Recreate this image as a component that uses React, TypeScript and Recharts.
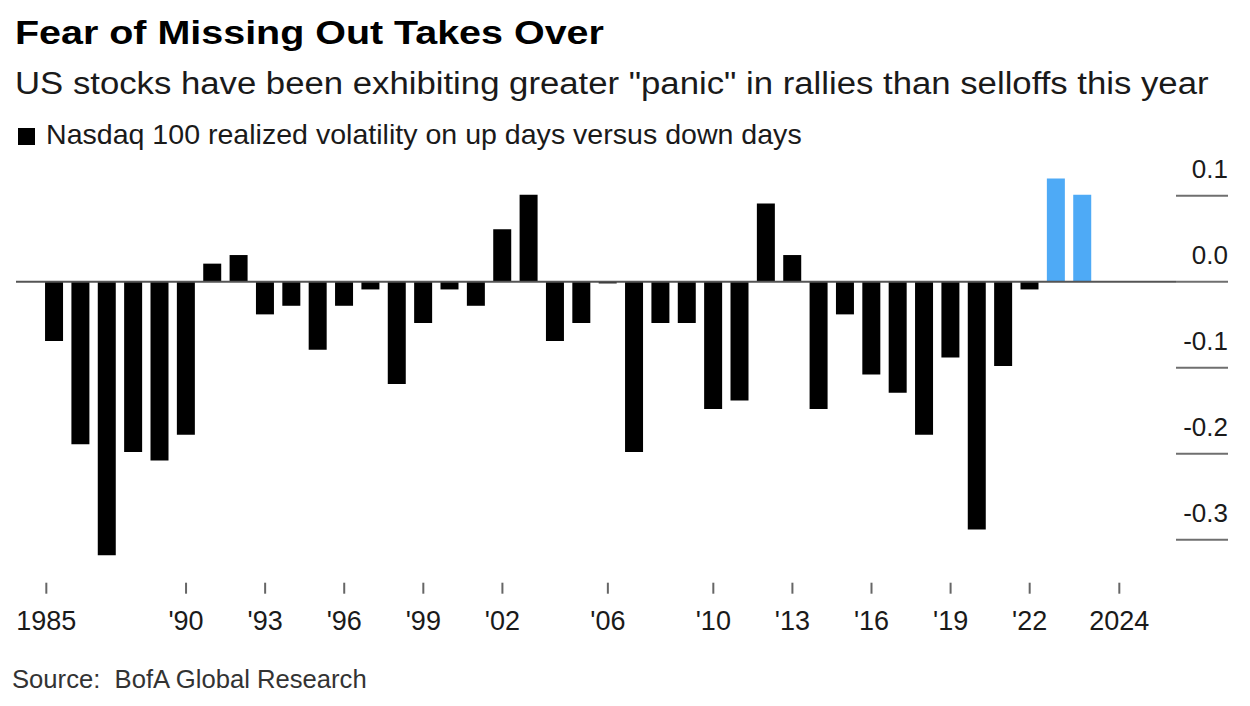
import React from "react";
import { BarChart, Bar, XAxis, YAxis, ReferenceLine, Cell } from "recharts";

// Nasdaq 100 realized vol on up days minus down days, by year
const years = [
  1985, 1986, 1987, 1988, 1989, 1990, 1991, 1992, 1993, 1994, 1995, 1996, 1997, 1998,
  1999, 2000, 2001, 2002, 2003, 2004, 2005, 2006, 2007, 2008, 2009, 2010, 2011, 2012,
  2013, 2014, 2015, 2016, 2017, 2018, 2019, 2020, 2021, 2022, 2023, 2024,
];
const values = [
  -0.069, -0.189, -0.318, -0.198, -0.208, -0.178, 0.021, 0.031, -0.038, -0.028, -0.079,
  -0.028, -0.009, -0.119, -0.048, -0.009, -0.028, 0.061, 0.101, -0.069, -0.048, -0.002,
  -0.198, -0.048, -0.048, -0.148, -0.138, 0.091, 0.031, -0.148, -0.038, -0.108, -0.129,
  -0.178, -0.088, -0.288, -0.098, -0.009, 0.12, 0.101,
];
const highlightYears = [2023, 2024];

const xTickYears = [1984.7, 1990, 1993, 1996, 1999, 2002, 2006, 2010, 2013, 2016, 2019, 2022, 2025.4];
const xTickLabels = ["1985", "'90", "'93", "'96", "'99", "'02", "'06", "'10", "'13", "'16", "'19", "'22", "2024"];
const yTicks = [0.1, 0, -0.1, -0.2, -0.3];

const data = years.map((year, i) => ({ year, value: values[i] }));

const FONT = '"Liberation Sans", Arial, Helvetica, sans-serif';

function YTick({ x, y, payload }: any) {
  return (
    <g>
      <line x1={x} x2={x + 52} y1={y} y2={y} stroke="#6f6f6f" strokeWidth={2} />
      <text x={x + 52} y={y - 17.5} textAnchor="end" fontSize={26} fill="#1a1a1a">
        {Number(payload.value).toFixed(1)}
      </text>
    </g>
  );
}

export default function App() {
  return (
    <div
      style={{
        position: "absolute",
        left: 0,
        top: 0,
        width: 1250,
        height: 706,
        background: "#fff",
        overflow: "hidden",
        fontFamily: FONT,
      }}
    >
      <div style={{ position: "absolute", left: 0, top: 0 }}>
        <BarChart
          width={1250}
          height={706}
          data={data}
          margin={{ top: 161.3, right: 0, bottom: 63.3, left: 16 }}
        >
          <XAxis
            dataKey="year"
            type="number"
            domain={[1983.55, 2027.55]}
            allowDataOverflow
            ticks={xTickYears}
            interval={0}
            tickFormatter={(v: number) => xTickLabels[xTickYears.indexOf(v)] ?? ""}
            axisLine={false}
            tickSize={11}
            tickLine={{ stroke: "#666", strokeWidth: 2 }}
            tickMargin={17}
            tick={{ fontSize: 27, fill: "#1a1a1a" }}
            height={60}
          />
          <YAxis
            orientation="right"
            type="number"
            domain={[-0.35, 0.14]}
            allowDataOverflow
            ticks={yTicks}
            interval={0}
            axisLine={false}
            tickLine={false}
            tickSize={0}
            tickMargin={0}
            width={74}
            tick={<YTick />}
          />
          <ReferenceLine y={0} stroke="#555" strokeWidth={2} />
          <Bar dataKey="value" barSize={18} isAnimationActive={false}>
            {data.map((d) => (
              <Cell key={d.year} fill={highlightYears.includes(d.year) ? "#4eaaf6" : "#000"} />
            ))}
          </Bar>
        </BarChart>
      </div>

      <div
        style={{
          position: "absolute",
          left: 15,
          top: 14.5,
          fontSize: 34,
          lineHeight: "34px",
          fontWeight: 700,
          color: "#000",
          whiteSpace: "nowrap",
          transform: "scaleX(1.16)",
          transformOrigin: "left",
        }}
      >
        Fear of Missing Out Takes Over
      </div>
      <div
        style={{
          position: "absolute",
          left: 15,
          top: 67.8,
          fontSize: 31,
          lineHeight: "31px",
          color: "#1a1a1a",
          whiteSpace: "nowrap",
          transform: "scaleX(1.12)",
          transformOrigin: "left",
        }}
      >
        US stocks have been exhibiting greater "panic" in rallies than selloffs this year
      </div>
      <div
        style={{
          position: "absolute",
          left: 18,
          top: 128,
          width: 17,
          height: 17,
          background: "#000",
        }}
      />
      <div
        style={{
          position: "absolute",
          left: 46,
          top: 121.3,
          fontSize: 28,
          lineHeight: "28px",
          color: "#1a1a1a",
          whiteSpace: "nowrap",
          transform: "scaleX(1.02)",
          transformOrigin: "left",
        }}
      >
        Nasdaq 100 realized volatility on up days versus down days
      </div>
      <div
        style={{
          position: "absolute",
          left: 12,
          top: 667.1,
          fontSize: 25,
          lineHeight: "25px",
          color: "#333",
          whiteSpace: "pre",
          transform: "scaleX(1.025)",
          transformOrigin: "left",
        }}
      >
        {"Source:  BofA Global Research"}
      </div>
    </div>
  );
}
